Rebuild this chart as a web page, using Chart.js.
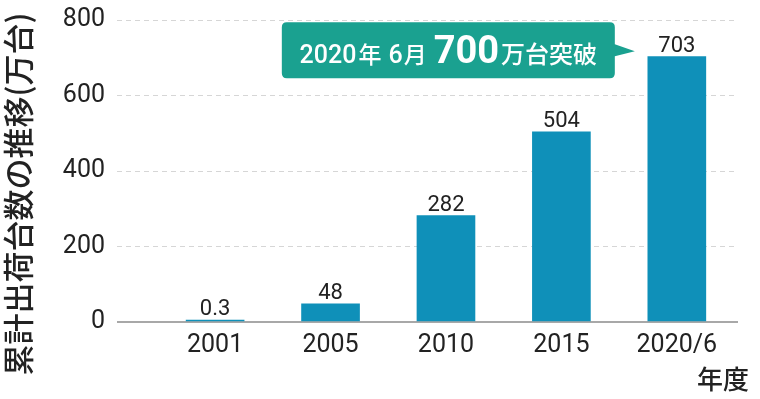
<!DOCTYPE html>
<html>
<head>
<meta charset="utf-8">
<script src="https://cdn.jsdelivr.net/npm/chart.js@4.4.1/dist/chart.umd.min.js"></script>
<style>
  html, body { margin: 0; padding: 0; background: #fff; }
  #wrap { width: 760px; height: 399px; }
</style>
</head>
<body>
<div id="wrap"><canvas id="chart"></canvas></div>
<script>
const years = ['2001', '2005', '2010', '2015', '2020/6'];
const shipments = [0.3, 48, 282, 504, 703];
const valueLabels = ['0.3', '48', '282', '504', '703'];
const yTicks = [0, 200, 400, 600, 800];
const yTitle = '累計出荷台数の推移(万台)';
const xTitle = '年度';

const barColor = '#0f90b9';
const calloutColor = '#1aa190';
const numFont = 'Roboto, "Noto Sans CJK JP", sans-serif';
const jpFont = '"Noto Sans CJK JP", sans-serif';

// value labels above each bar
const valueLabelPlugin = {
    id: 'valueLabels',
    afterDatasetsDraw(chart) {
        const ctx = chart.ctx;
        const bars = chart.getDatasetMeta(0).data;
        ctx.save();
        ctx.fillStyle = '#222';
        ctx.font = '22px ' + numFont;
        ctx.textAlign = 'center';
        ctx.textBaseline = 'alphabetic';
        bars.forEach((bar, i) => {
            ctx.fillText(valueLabels[i], bar.x, bar.y - 5);
        });
        ctx.restore();
    }
};

// axis titles sit outside the plot box, so draw them by hand
const axisTitlePlugin = {
    id: 'axisTitles',
    afterDraw(chart) {
        const ctx = chart.ctx;
        ctx.save();
        ctx.fillStyle = '#222';
        ctx.font = '500 31px ' + jpFont;
        ctx.translate(18, 194);
        ctx.rotate(-Math.PI / 2);
        ctx.textAlign = 'center';
        ctx.textBaseline = 'middle';
        ctx.fillText(yTitle, 0, 0, 374);
        ctx.restore();

        ctx.save();
        ctx.fillStyle = '#222';
        ctx.font = '500 26px ' + jpFont;
        ctx.textAlign = 'right';
        ctx.textBaseline = 'alphabetic';
        ctx.fillText(xTitle, 749, 389);
        ctx.restore();
    }
};

// "2020年6月 700万台突破" callout pointing at the last bar
const calloutPlugin = {
    id: 'callout',
    afterDatasetsDraw(chart) {
        const ctx = chart.ctx;
        const bars = chart.getDatasetMeta(0).data;
        const last = bars[bars.length - 1];
        const tipX = last.x - last.width / 2 - 13;
        const midY = chart.scales.y.getPixelForValue(717);
        const right = tipX - 20, left = right - 333;
        const top = midY - 29, bottom = midY + 27, r = 5;

        ctx.save();
        ctx.fillStyle = calloutColor;
        ctx.beginPath();
        ctx.moveTo(left + r, top);
        ctx.lineTo(right - r, top);
        ctx.quadraticCurveTo(right, top, right, top + r);
        ctx.lineTo(right, midY - 7);
        ctx.lineTo(tipX, midY);
        ctx.lineTo(right, midY + 5);
        ctx.lineTo(right, bottom - r);
        ctx.quadraticCurveTo(right, bottom, right - r, bottom);
        ctx.lineTo(left + r, bottom);
        ctx.quadraticCurveTo(left, bottom, left, bottom - r);
        ctx.lineTo(left, top + r);
        ctx.quadraticCurveTo(left, top, left + r, top);
        ctx.closePath();
        ctx.fill();

        const parts = [
            { t: '2020', f: '500 25px ' + numFont, gap: 2 },
            { t: '年', f: '500 23px ' + jpFont, gap: 7 },
            { t: '6', f: '500 25px ' + numFont, gap: 1 },
            { t: '月', f: '500 23px ' + jpFont, gap: 7 },
            { t: '700', f: 'bold 38px ' + numFont, gap: 2 },
            { t: '万台突破', f: '500 24px ' + jpFont, gap: 0 }
        ];
        let total = 0;
        parts.forEach(p => { ctx.font = p.f; p.w = ctx.measureText(p.t).width; total += p.w + p.gap; });
        let x = (left + right) / 2 - total / 2;
        ctx.fillStyle = '#fff';
        ctx.textBaseline = 'alphabetic';
        ctx.textAlign = 'left';
        parts.forEach(p => {
            ctx.font = p.f;
            ctx.fillText(p.t, x, midY + 12);
            x += p.w + p.gap;
        });
        ctx.restore();
    }
};

const ctx = document.getElementById('chart').getContext('2d');
const chart = new Chart(ctx, {
    type: 'bar',
    data: {
        datasets: [{
            data: shipments.map((v, i) => ({ x: i, y: v })),
            backgroundColor: barColor,
            barThickness: 58,
            minBarLength: 2
        }]
    },
    options: {
        responsive: true,
        maintainAspectRatio: false,
        animation: false,
        layout: { padding: { top: 20, right: 22, left: 0, bottom: 5 } },
        plugins: {
            legend: { display: false },
            tooltip: { enabled: false }
        },
        scales: {
            x: {
                type: 'linear',
                offset: false,
                min: -0.85,
                max: 4.53,
                afterBuildTicks: scale => {
                    scale.ticks = years.map((y, i) => ({ value: i }));
                },
                afterFit: scale => { scale.height = 72; },
                grid: { display: false },
                border: { display: false },
                ticks: {
                    color: '#222',
                    font: { family: numFont, size: 25 },
                    padding: 1,
                    maxRotation: 0,
                    callback: v => years[v]
                }
            },
            y: {
                min: 0,
                max: 800,
                afterBuildTicks: scale => {
                    scale.ticks = yTicks.map(v => ({ value: v }));
                },
                afterFit: scale => {
                    scale.width = 117;
                    scale.paddingTop = 0;
                    scale.paddingBottom = 0;
                },
                grid: {
                    color: ctx => ctx.tick.value === 0 ? '#a8a8a8' : '#d6d6d6',
                    lineWidth: ctx => ctx.tick.value === 0 ? 2 : 1,
                    drawTicks: false
                },
                border: {
                    display: false,
                    dash: ctx => ctx.tick && ctx.tick.value === 0 ? [] : [5, 4]
                },
                ticks: {
                    color: '#222',
                    font: { family: numFont, size: 25 },
                    padding: 12
                }
            }
        }
    },
    plugins: [valueLabelPlugin, calloutPlugin, axisTitlePlugin]
});
</script>
</body>
</html>
